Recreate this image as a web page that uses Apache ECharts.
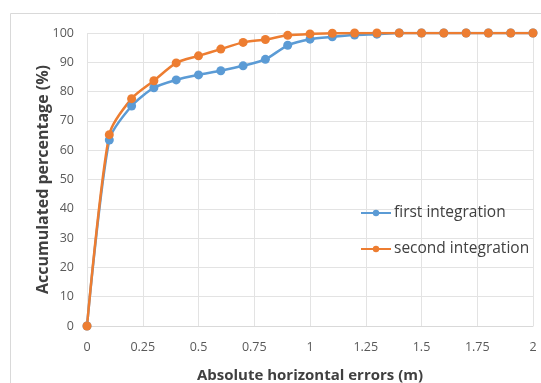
<!DOCTYPE html>
<html><head><meta charset="utf-8">
<script src="https://cdn.jsdelivr.net/npm/echarts@6/dist/echarts.min.js"></script>
<style>html,body{margin:0;padding:0;background:#fff}#c{width:541px;height:383px}</style>
</head><body><div id="c"></div>
<script>
const xValues = [0,0.1,0.2,0.3,0.4,0.5,0.6,0.7,0.8,0.9,1.0,1.1,1.2,1.3,1.4,1.5,1.6,1.7,1.8,1.9,2.0];
const firstIntegration = [0,63.5,75.1,81.3,84.0,85.7,87.1,88.8,91.0,95.8,97.9,98.7,99.3,99.6,100,100,100,100,100,100,100];
const secondIntegration = [0,65.3,77.6,83.7,89.8,92.2,94.5,96.8,97.8,99.2,99.7,99.9,100,100,100,100,100,100,100,100,100];
const xTicks = {min:0, max:2, interval:0.25};
const yTicks = {min:0, max:100, interval:10};

const chart = echarts.init(document.getElementById('c'));
const pair = arr => xValues.map((x,i)=>[x,arr[i]]);
const font = '"Open Sans", "Noto Sans", sans-serif';
chart.setOption({
  animation:false,
  graphic:[{type:'rect',shape:{x:10.5,y:13.5,width:540,height:380},style:{fill:'none',stroke:'#d9d9d9',lineWidth:1},z:-1}],
  grid:{left:87,right:8,top:33,bottom:57,outerBoundsMode:'none',containLabel:false},
  legend:{
    orient:'vertical', left:355, top:200, itemGap:20, itemWidth:30, itemHeight:8,
    textStyle:{fontFamily:font, fontSize:15.5, color:'#404040', padding:[0,0,0,-2]},
    data:['first integration','second integration']
  },
  xAxis:{type:'value', min:xTicks.min, max:xTicks.max, interval:xTicks.interval,
    name:'Absolute horizontal errors (m)', nameLocation:'middle', nameGap:42,
    nameTextStyle:{fontFamily:font, fontSize:15, fontWeight:'bold', color:'#404040'},
    axisLine:{lineStyle:{color:'#d9d9d9'}}, axisTick:{show:false},
    axisLabel:{fontFamily:font, fontSize:12.5, color:'#595959', margin:15},
    splitLine:{show:true,lineStyle:{color:'#e3e3e3'}}},
  yAxis:{type:'value', min:yTicks.min, max:yTicks.max, interval:yTicks.interval,
    name:'Accumulated percentage (%)', nameLocation:'middle', nameGap:36, nameMoveOverlap:false,
    nameTextStyle:{fontFamily:font, fontSize:16, fontWeight:'bold', color:'#404040'},
    axisLine:{show:false}, axisTick:{show:false},
    axisLabel:{fontFamily:font, fontSize:12.5, color:'#595959', margin:13},
    splitLine:{lineStyle:{color:'#e3e3e3'}}},
  series:[
    {name:'first integration', type:'line', data:pair(firstIntegration), smooth:0.25,
     symbol:'circle', symbolSize:9, color:'#5b9bd5', lineStyle:{width:2.5}},
    {name:'second integration', type:'line', data:pair(secondIntegration), smooth:0.25,
     symbol:'circle', symbolSize:9, color:'#ed7d31', lineStyle:{width:2.5}}
  ]
});
</script></body></html>
